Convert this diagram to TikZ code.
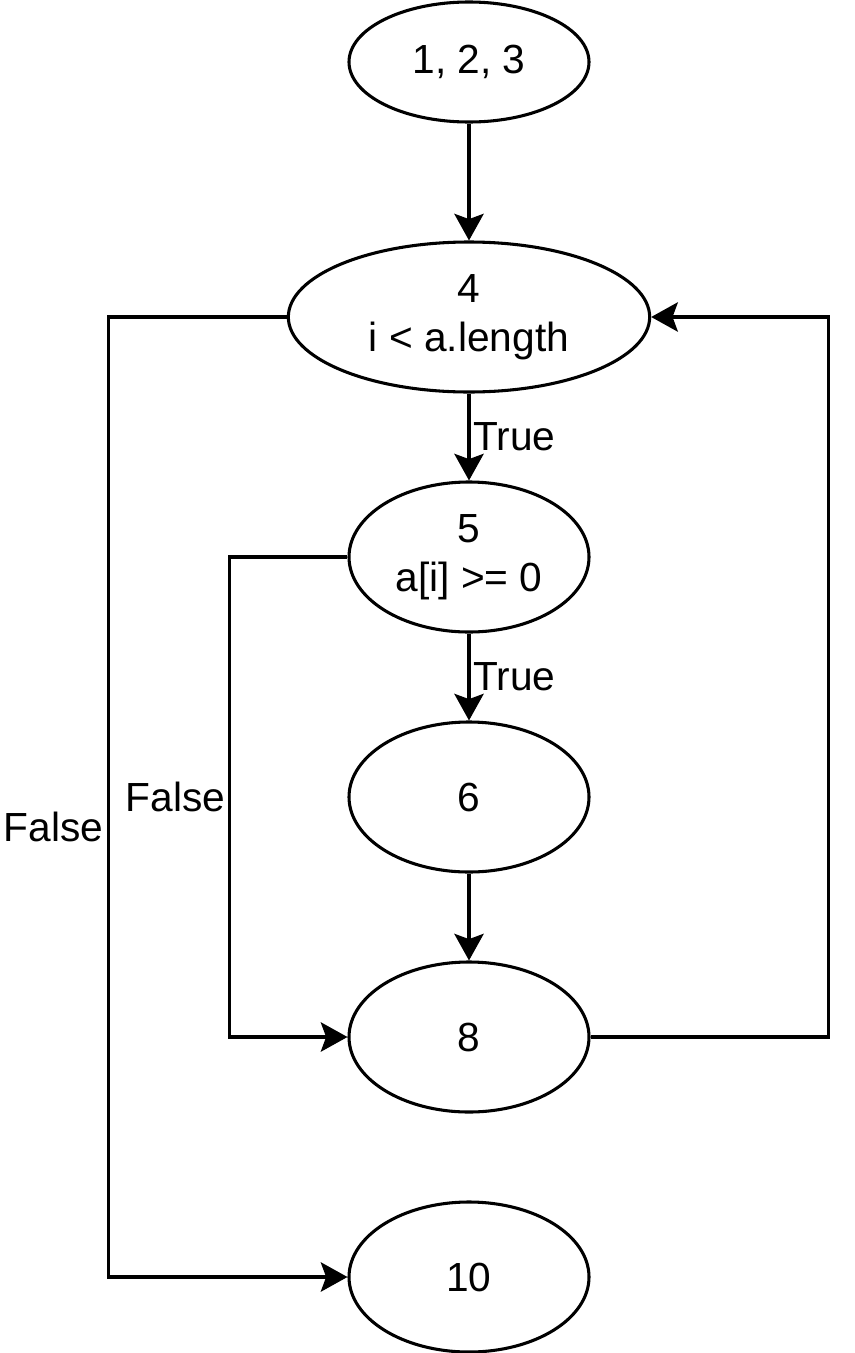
\documentclass[tikz,border=0pt]{standalone}
\usepackage{fontspec}
\setmainfont{Liberation Sans}
\usepackage{tikz}
\usetikzlibrary{shapes.geometric,arrows.meta}

\begin{document}
\begin{tikzpicture}[x=0.75pt,y=-0.75pt,
  every node/.style={font=\fontsize{30.5}{37}\selectfont},
  blk/.style={ellipse, draw, line width=2.3pt, inner sep=0pt, minimum width=180pt, minimum height=112.5pt, align=center},
  flow/.style={line width=2.3pt, -{Stealth[length=20pt, width=22pt, inset=4pt]}},
  lbl/.style={inner sep=2pt}]
\useasboundingbox (0,0) rectangle (855,1353);
% Nodes
\node[blk, minimum height=90pt] (n123) at (469,62) {1, 2, 3};
\node[blk, minimum width=271pt] (n4) at (469,317) {4\\i < a.length};
\node[blk] (n5) at (469,557) {5\\a[i] >= 0};
\node[blk] (n6) at (469,797) {6};
\node[blk] (n8) at (469,1037) {8};
\node[blk] (n10) at (469,1277) {10};
% Labels
\node[lbl, anchor=east] (f4) at (106,827) {False};
\node[lbl, anchor=east] (f5) at (228,797) {False};
% Edges
\draw[flow] (n123) -- (n4);
\draw[flow] (n4) -- (n5) node[lbl, midway, right] (t4) {True};
\draw[flow] (n5) -- (n6) node[lbl, midway, right] (t5) {True};
\draw[flow] (n6) -- (n8);
\draw[flow] (n5.west) -- ++(-118,0) |- (n8.west);
\draw[flow] (n4.west) -- ++(-178,0) |- (n10.west);
\draw[flow] (n8.east) -- ++(238,0) |- (n4.east);
\end{tikzpicture}
\end{document}
